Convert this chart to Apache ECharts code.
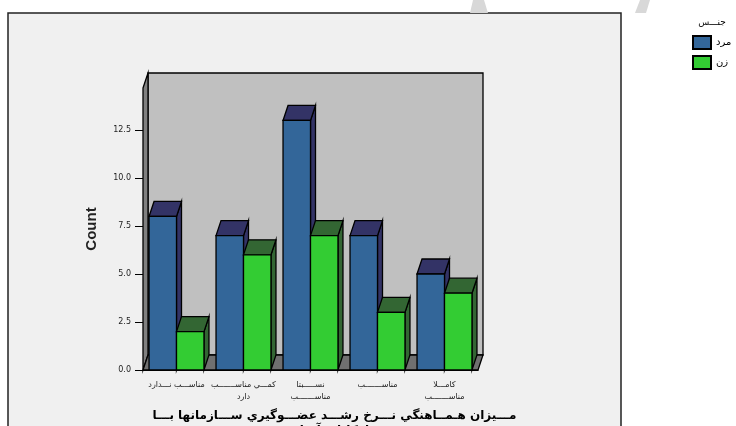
<!DOCTYPE html>
<html><head><meta charset="utf-8">
<style>html,body{margin:0;padding:0;background:#fff}#c{width:736px;height:426px}</style>
<script src="https://cdn.jsdelivr.net/npm/echarts@6/dist/echarts.min.js"></script>
</head><body><div id="c"></div>
<script>
const categories = ['مناســـب نـــدارد', 'كمـــي مناســـــــب\nدارد', 'نســـــبتا\nمناســـــــب', 'مناســـــــب', 'كامـــلا\nمناســـــــب'];
const maleValues = [8, 7, 13, 7, 5];
const femaleValues = [2, 6, 7, 3, 4];
const yTicks = [0, 2.5, 5, 7.5, 10, 12.5];
const xTitle = 'مـــيزان هـمــاهنگي نـــرخ رشـــد عضـــوگيري ســـازمانها بـــا\nامكانات آنها';
const yTitle = 'Count';
const legendTitle = 'جنـــس';
const maleName = 'مرد', femaleName = 'زن';

const DX = 5, DY = -15;
const FONT = '"DejaVu Sans", sans-serif';
const chart = echarts.init(document.getElementById('c'));

function poly(points, fill, z2) {
  return { type: 'polygon', z2: z2 || 0, shape: { points },
    style: { fill, stroke: '#000', lineWidth: 1.3 } };
}
function wallItem(params) {
  const c = params.coordSys;
  const l = c.x, r = c.x + c.width, t = c.y, b = c.y + c.height;
  return { type: 'group', children: [
    poly([[l + DX, t + DY], [r + DX, t + DY], [r + DX, b + DY], [l + DX, b + DY]], '#c0c0c0'),
    poly([[l, t], [l + DX, t + DY], [l + DX, b + DY], [l, b]], '#808080'),
    poly([[l, b], [l + DX, b + DY], [r + DX, b + DY], [r, b]], '#707070')
  ]};
}
function barRenderer(side, front, shade) {
  return function (params, api) {
    const p = api.coord([api.value(0), api.value(1)]);
    const base = api.coord([api.value(0), 0]);
    const w = api.size([1, 0])[0] * 0.41;
    const x0 = side < 0 ? p[0] - w : p[0], x1 = x0 + w, t = p[1], b = base[1];
    return { type: 'group', children: [
      poly([[x1, t], [x1 + DX, t + DY], [x1 + DX, b + DY], [x1, b]], shade),
      poly([[x0, t], [x0 + DX, t + DY], [x1 + DX, t + DY], [x1, t]], shade),
      poly([[x0, t], [x1, t], [x1, b], [x0, b]], front)
    ]};
  };
}
function barSeries(name, values, side, front, shade) {
  return { type: 'custom', name, z: 3, clip: false,
    data: values.map((v, i) => [i, v]),
    encode: { x: 0, y: 1 },
    itemStyle: { color: front, borderColor: '#000', borderWidth: 1.3 },
    renderItem: barRenderer(side, front, shade) };
}

chart.setOption({
  animation: false,
  backgroundColor: '#fff',
  textStyle: { fontFamily: FONT },
  graphic: [
    { type: 'rect', z: -10, shape: { x: 8, y: 13, width: 613, height: 500 },
      style: { fill: '#f0f0f0', stroke: '#222', lineWidth: 1.5 } },
    { type: 'polygon', z: -10, shape: { points: [[473, 0], [484, 0], [488, 13], [470, 13]] }, style: { fill: '#d8d8d8' } },
    { type: 'polygon', z: -10, shape: { points: [[640, 0], [650, 0], [646, 13], [635, 13]] }, style: { fill: '#d8d8d8' } },
    { type: 'text', z: 5, style: { x: 712, y: 18, text: legendTitle, textAlign: 'center', fontSize: 9, fontFamily: FONT, fill: '#000' } }
  ],
  legend: {
    data: [maleName, femaleName], orient: 'vertical', left: 692, top: 35,
    itemWidth: 18, itemHeight: 13, itemGap: 5, icon: 'rect', selectedMode: false, padding: 0,
    textStyle: { fontSize: 10, color: '#000', fontFamily: FONT }
  },
  grid: { left: 143, right: 258, top: 88, height: 282, outerBoundsMode: 'none' },
  xAxis: {
    type: 'category', data: categories,
    name: xTitle, nameLocation: 'middle', nameGap: 36,
    nameTextStyle: { fontSize: 12, fontWeight: 'bold', color: '#000', fontFamily: FONT, lineHeight: 15, padding: [0, 0, 0, 48] },
    axisLine: { lineStyle: { color: '#000', width: 1 } },
    axisTick: { alignWithLabel: true, length: 6, lineStyle: { color: '#000' } },
    axisLabel: { fontSize: 8, color: '#222', margin: 9, lineHeight: 12, interval: 0, fontFamily: FONT }
  },
  yAxis: {
    type: 'value', min: 0, max: 14.69,
    name: yTitle, nameLocation: 'middle', nameGap: 44,
    nameTextStyle: { fontSize: 15, fontWeight: 'bold', color: '#222', fontFamily: '"Liberation Sans Narrow", "Liberation Sans", sans-serif' },
    splitLine: { show: false },
    axisLine: { show: true, lineStyle: { color: '#000', width: 1 } },
    axisTick: { show: true, length: 8, customValues: yTicks, lineStyle: { color: '#000' } },
    axisLabel: { fontSize: 8, color: '#222', margin: 12, customValues: yTicks, fontFamily: FONT, formatter: v => v.toFixed(1) }
  },
  series: [
    { type: 'custom', name: 'walls', z: 1, silent: true, clip: false, data: [[0, 0]], encode: { x: 0, y: 1 }, renderItem: wallItem },
    barSeries(maleName, maleValues, -1, '#336699', '#333366'),
    barSeries(femaleName, femaleValues, 1, '#33cc33', '#336633')
  ]
});
</script></body></html>
